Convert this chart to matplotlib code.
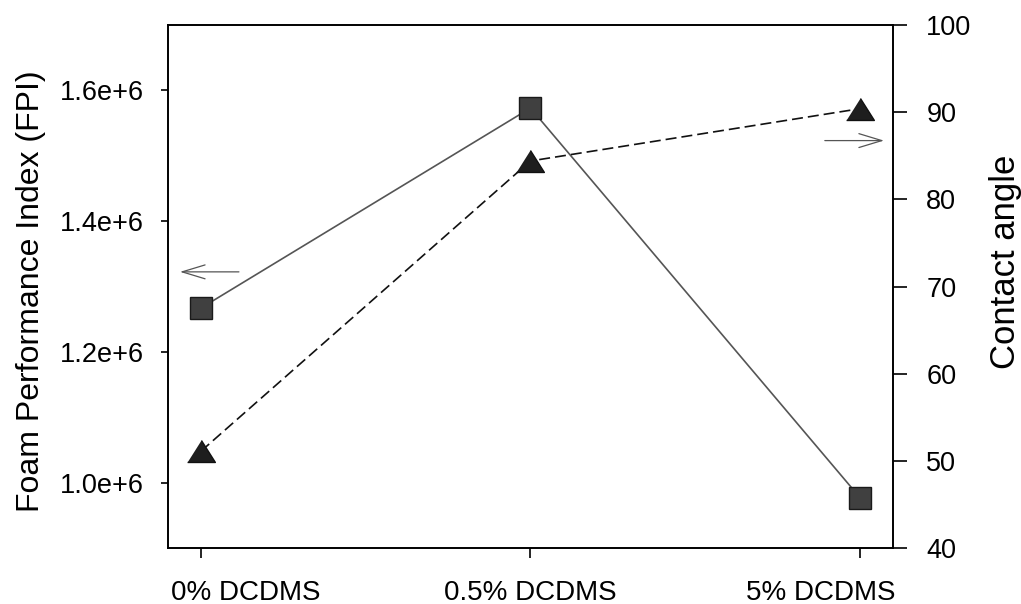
import matplotlib
matplotlib.use('Agg')
import matplotlib.pyplot as plt
from matplotlib.transforms import ScaledTranslation

# ---- data ----
categories = ['0% DCDMS', '0.5% DCDMS', '5% DCDMS']
fpi = [1.267e6, 1.573e6, 0.977e6]
contact_angle = [51.1, 84.4, 90.4]
fpi_ticks = [1.0e6, 1.2e6, 1.4e6, 1.6e6]
fpi_tick_labels = ['1.0e+6', '1.2e+6', '1.4e+6', '1.6e+6']
angle_ticks = [40, 50, 60, 70, 80, 90, 100]

plt.rcParams['font.family'] = ['Liberation Sans', 'DejaVu Sans']

fig = plt.figure(figsize=(10.21, 6.04), dpi=100)
ax = fig.add_axes([0.1645, 0.0927, 0.7101, 0.8659])
ax2 = ax.twinx()

xpos = list(range(len(categories)))

ax.plot(xpos, fpi, color='#555555', lw=1.2, marker='s', ms=16.5,
        mfc='#404040', mec='#1a1a1a', mew=1.0, zorder=3)

tri = [(-1, -0.79), (1, -0.79), (0, 0.79)]
ax2.plot(xpos, contact_angle, color='#111111', lw=1.2, ls=(0, (6.6, 3.0)),
         marker=tri, ms=20, mfc='#1e1e1e', mec='#111111', mew=1.0, zorder=3)

ax.set_xlim(-0.1, 2.1)
ax.set_ylim(0.9e6, 1.7e6)
ax2.set_ylim(40, 100)

ax.set_xticks(xpos)
ax.set_xticklabels(categories)
ax.set_yticks(fpi_ticks)
ax.set_yticklabels(fpi_tick_labels)
ax2.set_yticks(angle_ticks)

for a in (ax, ax2):
    for s in a.spines.values():
        s.set_linewidth(1.2)
        s.set_color('black')

ax.tick_params(axis='y', direction='out', length=5, width=1.2, pad=12, labelsize=19.5)
ax.tick_params(axis='x', direction='out', length=7, width=1.2, pad=16, labelsize=20)
ax2.tick_params(axis='y', direction='out', length=10, width=1.2, pad=14, labelsize=19.5)

# keep the outer category labels inside the axis extent, as in the reference
xlabels = ax.get_xticklabels()
xlabels[0].set_horizontalalignment('left')
xlabels[0].set_transform(xlabels[0].get_transform() +
                         ScaledTranslation(-0.30, 0, fig.dpi_scale_trans))
xlabels[-1].set_horizontalalignment('right')
xlabels[-1].set_transform(xlabels[-1].get_transform() +
                          ScaledTranslation(0.35, 0, fig.dpi_scale_trans))

ax.set_ylabel('Foam Performance Index (FPI)', fontsize=23)
ax.yaxis.set_label_coords(-0.168, 0.491)
ax2.set_ylabel('Contact angle', fontsize=25)
ax2.yaxis.set_label_coords(1.1324, 0.547)

arrow_style = dict(arrowstyle='->,head_length=1.65,head_width=0.5', color='#555555',
                   lw=0.9, mutation_scale=10, shrinkA=0, shrinkB=0)
ax2.annotate('', xy=(0.0166, 0.528), xytext=(0.0979, 0.528),
             xycoords='axes fraction', textcoords='axes fraction', arrowprops=arrow_style)
ax2.annotate('', xy=(0.9876, 0.779), xytext=(0.906, 0.779),
             xycoords='axes fraction', textcoords='axes fraction', arrowprops=arrow_style)

fig.savefig('out.png', dpi=100)
